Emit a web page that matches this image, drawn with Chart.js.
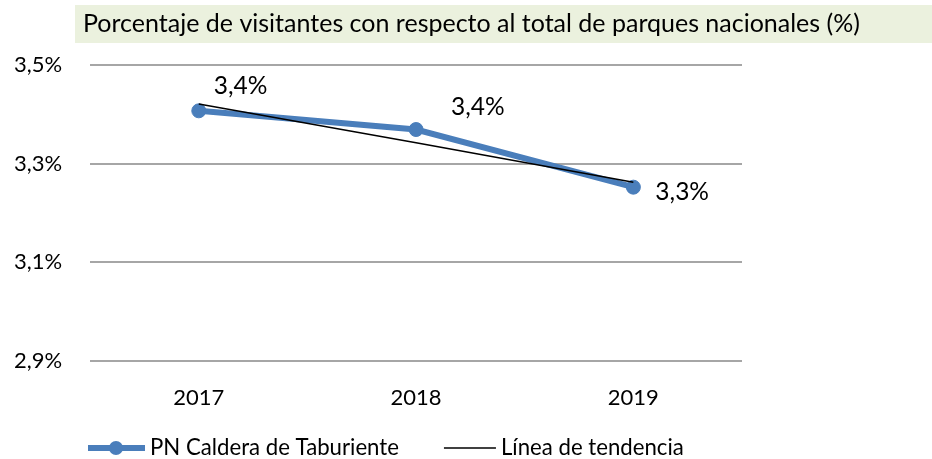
<!DOCTYPE html>
<html>
<head>
<meta charset="utf-8">
<script src="https://cdn.jsdelivr.net/npm/chart.js@4"></script>
<style>
  html, body { margin: 0; padding: 0; background: #fff; }
  #wrap { width: 932px; height: 459px; }
</style>
</head>
<body>
<div id="wrap"><canvas id="chart"></canvas></div>
<script>
const years = ['2017', '2018', '2019'];
const visitorShare = [3.407, 3.369, 3.252];   // PN Caldera de Taburiente
const trendShare = [3.421, 3.342, 3.262];     // línea de tendencia
const yTicks = [2.9, 3.1, 3.3, 3.5];

const chartTitle = 'Porcentaje de visitantes con respecto al total de parques nacionales (%)';
const FONT = 'Lato';
const blue = '#4a7ebb';

const fmt = v => v.toFixed(1).replace('.', ',') + '%';

// label offset from each point (dx, dy)
const labelOffsets = [[15, -25], [35, -22], [22, 5]];

const titleBox = {
  id: 'titleBox',
  beforeDraw(chart) {
    const ctx = chart.ctx;
    ctx.save();
    ctx.fillStyle = '#ebf1de';
    ctx.fillRect(75, 5, chart.width - 75, 38);
    ctx.fillStyle = '#000';
    ctx.font = `25px ${FONT}`;
    ctx.textBaseline = 'middle';
    ctx.fillText(chartTitle, 83, 24);
    ctx.restore();
  }
};

const valueLabels = {
  id: 'valueLabels',
  afterDatasetsDraw(chart) {
    const ctx = chart.ctx;
    const meta = chart.getDatasetMeta(1);
    ctx.save();
    ctx.fillStyle = '#000';
    ctx.font = `24.5px ${FONT}`;
    ctx.textBaseline = 'middle';
    ctx.textAlign = 'left';
    meta.data.forEach((pt, i) => {
      const [dx, dy] = labelOffsets[i];
      ctx.fillText(fmt(visitorShare[i]), pt.x + dx, pt.y + dy);
    });
    ctx.restore();
  }
};

// legend row under the axis
const legendRow = {
  id: 'legendRow',
  afterDraw(chart) {
    const ctx = chart.ctx;
    const y = 448;
    const ds = chart.data.datasets;
    ctx.save();
    ctx.font = `22.2px ${FONT}`;
    ctx.textBaseline = 'middle';
    let x = 88;
    // series item: thick line with marker
    ctx.strokeStyle = ds[1].borderColor;
    ctx.lineWidth = 6;
    ctx.beginPath(); ctx.moveTo(x, y); ctx.lineTo(x + 57, y); ctx.stroke();
    ctx.fillStyle = ds[1].pointBackgroundColor;
    ctx.beginPath(); ctx.arc(x + 28, y, 7, 0, Math.PI * 2); ctx.fill();
    ctx.fillStyle = '#000';
    ctx.fillText(ds[1].label, x + 62, y);
    x += 62 + ctx.measureText(ds[1].label).width + 45;
    // trend item
    ctx.strokeStyle = ds[0].borderColor;
    ctx.lineWidth = 1.5;
    ctx.beginPath(); ctx.moveTo(x, y); ctx.lineTo(x + 52, y); ctx.stroke();
    ctx.fillText(ds[0].label, x + 57, y);
    ctx.restore();
  }
};

new Chart(document.getElementById('chart'), {
  type: 'line',
  data: {
    labels: years,
    datasets: [
      {
        label: 'Línea de tendencia',
        data: trendShare,
        borderColor: '#000',
        borderWidth: 1.5,
        pointRadius: 0,
        order: 0
      },
      {
        label: 'PN Caldera de Taburiente',
        data: visitorShare,
        borderColor: blue,
        borderWidth: 6,
        pointRadius: 7,
        pointBackgroundColor: blue,
        pointBorderColor: blue,
        pointBorderWidth: 1,
        order: 1
      }
    ]
  },
  options: {
    responsive: true,
    maintainAspectRatio: false,
    animation: false,
    layout: { padding: { top: 65, left: -14, right: 190, bottom: 32 } },
    plugins: {
      legend: { display: false },
      title: { display: false },
      tooltip: { enabled: false }
    },
    scales: {
      x: {
        offset: true,
        grid: { display: false },
        border: { display: false },
        ticks: { color: '#000', font: { family: FONT, size: 22 }, padding: 16 }
      },
      y: {
        min: 2.9,
        max: 3.5,
        afterBuildTicks: axis => { axis.ticks = yTicks.map(v => ({ value: v })); },
        grid: { color: '#a6a6a6', lineWidth: 2, drawTicks: false },
        border: { display: false },
        ticks: {
          color: '#000',
          font: { family: FONT, size: 22 },
          padding: 28,
          callback: v => fmt(v)
        }
      }
    }
  },
  plugins: [titleBox, valueLabels, legendRow]
});
</script>
</body>
</html>
